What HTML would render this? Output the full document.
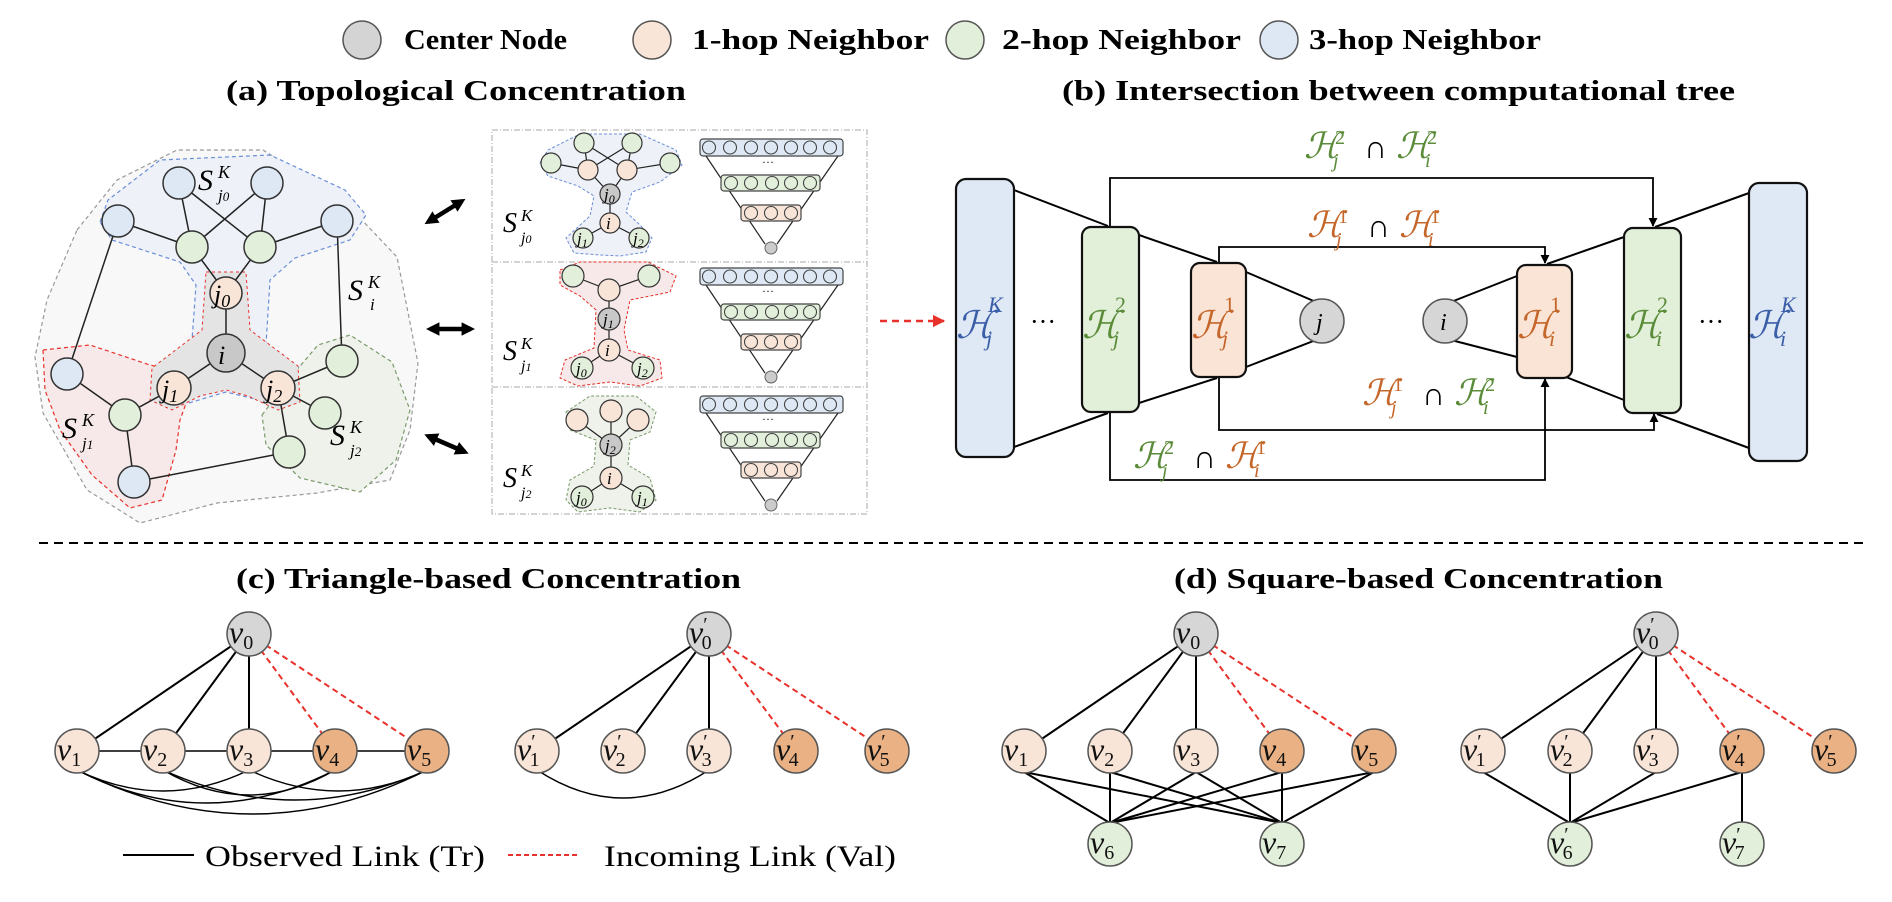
<!DOCTYPE html>
<html><head><meta charset="utf-8"><style>
html,body{margin:0;padding:0;background:#fff;}
svg{display:block;}
text{font-family:"Liberation Serif","DejaVu Serif",serif;}
.it{font-style:italic;}
</style></head><body>
<svg width="1892" height="902" viewBox="0 0 1892 902" xmlns="http://www.w3.org/2000/svg">
<defs>
<marker id="ah" viewBox="0 0 10 10" refX="9" refY="5" markerWidth="5" markerHeight="5" orient="auto"><path d="M0,0 L10,5 L0,10 z" fill="#000"/></marker>
<marker id="bh" viewBox="0 0 10 10" refX="7" refY="5" markerWidth="3" markerHeight="3" orient="auto-start-reverse"><path d="M0,0 L10,5 L0,10 z" fill="#000"/></marker>
<marker id="rh" viewBox="0 0 10 10" refX="9" refY="5" markerWidth="5" markerHeight="5" orient="auto"><path d="M0,0 L10,5 L0,10 z" fill="#e8312a"/></marker>
</defs>

<!-- Legend -->
<g font-weight="bold" font-size="28">
<circle cx="362" cy="40" r="19" fill="#d4d4d4" stroke="#555" stroke-width="1.5"/>
<text x="404" y="49" textLength="163" lengthAdjust="spacingAndGlyphs">Center Node</text>
<circle cx="652" cy="40" r="19" fill="#f8e5d8" stroke="#555" stroke-width="1.5"/>
<text x="692" y="49" textLength="237" lengthAdjust="spacingAndGlyphs">1-hop Neighbor</text>
<circle cx="965" cy="40" r="19" fill="#e2efda" stroke="#555" stroke-width="1.5"/>
<text x="1002" y="49" textLength="239" lengthAdjust="spacingAndGlyphs">2-hop Neighbor</text>
<circle cx="1279" cy="40" r="19" fill="#dde8f4" stroke="#555" stroke-width="1.5"/>
<text x="1309" y="49" textLength="232" lengthAdjust="spacingAndGlyphs">3-hop Neighbor</text>
</g>
<g font-weight="bold" font-size="29">
<text x="226" y="100" textLength="460" lengthAdjust="spacingAndGlyphs">(a) Topological Concentration</text>
<text x="1062" y="100" textLength="673" lengthAdjust="spacingAndGlyphs">(b) Intersection between computational tree</text>
<text x="236" y="588" textLength="505" lengthAdjust="spacingAndGlyphs">(c) Triangle-based Concentration</text>
<text x="1174" y="588" textLength="489" lengthAdjust="spacingAndGlyphs">(d) Square-based Concentration</text>
</g>

<line x1="39" y1="543" x2="1867" y2="543" stroke="#000" stroke-width="2" stroke-dasharray="9,6"/>

<!-- ============ Panel (a) left ============ -->
<path d="M77,230 L117,180 L177,150 L263,150 L343,200 L397,257 L418,363 L410,430 L390,480 L317,493 L217,503 L140,523 L87,490 L43,413 L35,357 L47,300 Z" fill="#f8f8f8" stroke="#999" stroke-width="1.2" stroke-dasharray="4,3"/>
<path d="M100,222 L108,200 L160,160 L270,155 L345,190 L366,215 L350,240 L295,258 L270,280 L266,345 L300,368 L305,395 L280,405 L226,392 L172,408 L150,395 L152,370 L192,340 L196,285 L180,262 L112,240 Z" fill="#eef1f8" stroke="#6b8fd6" stroke-width="1.2" stroke-dasharray="4,3"/>
<path d="M43,350 L90,345 L150,365 L178,372 L188,398 L180,420 L176,450 L162,500 L130,508 L92,475 L60,430 L45,390 Z" fill="#f7e9e9" stroke="#e8312a" stroke-width="1.2" stroke-dasharray="4,3"/>
<path d="M262,415 L295,372 L318,345 L350,335 L392,362 L410,410 L396,460 L360,492 L300,478 L266,445 Z" fill="#eef2ea" stroke="#7a9a6a" stroke-width="1.2" stroke-dasharray="4,3"/>
<path d="M206,272 L246,272 L250,330 L298,366 L300,402 L278,410 L248,396 L226,390 L200,396 L172,410 L150,400 L152,368 L202,330 Z" fill="#e4e4e4" stroke="#e8312a" stroke-width="1" stroke-dasharray="3,3"/>
<g stroke="#222" stroke-width="1.5">
<line x1="179" y1="183" x2="192" y2="247"/><line x1="179" y1="183" x2="260" y2="247"/>
<line x1="267" y1="183" x2="192" y2="247"/><line x1="267" y1="183" x2="260" y2="247"/>
<line x1="118" y1="221" x2="192" y2="247"/><line x1="337" y1="221" x2="260" y2="247"/>
<line x1="192" y1="247" x2="226" y2="293"/><line x1="260" y1="247" x2="226" y2="293"/>
<line x1="226" y1="293" x2="226" y2="353"/><line x1="226" y1="353" x2="174" y2="388"/><line x1="226" y1="353" x2="278" y2="388"/>
<line x1="118" y1="221" x2="67" y2="374"/><line x1="337" y1="221" x2="342" y2="361"/>
<line x1="278" y1="388" x2="342" y2="361"/><line x1="278" y1="388" x2="325" y2="413"/><line x1="278" y1="388" x2="289" y2="452"/>
<line x1="174" y1="388" x2="125" y2="415"/><line x1="67" y1="374" x2="125" y2="415"/><line x1="125" y1="415" x2="134" y2="482"/>
<line x1="134" y1="482" x2="289" y2="452"/>
</g>
<g stroke="#333" stroke-width="1.5">
<circle cx="179" cy="183" r="16" fill="#dde8f4"/><circle cx="267" cy="183" r="16" fill="#dde8f4"/>
<circle cx="118" cy="221" r="16" fill="#dde8f4"/><circle cx="337" cy="221" r="16" fill="#dde8f4"/>
<circle cx="192" cy="247" r="16" fill="#e2efda"/><circle cx="260" cy="247" r="16" fill="#e2efda"/>
<circle cx="226" cy="293" r="16" fill="#f8e5d8"/><circle cx="226" cy="353" r="19" fill="#c8c8c8"/>
<circle cx="174" cy="388" r="17" fill="#f8e5d8"/><circle cx="278" cy="388" r="17" fill="#f8e5d8"/>
<circle cx="342" cy="361" r="16" fill="#e2efda"/><circle cx="325" cy="413" r="16" fill="#e2efda"/>
<circle cx="289" cy="452" r="16" fill="#e2efda"/><circle cx="125" cy="415" r="16" fill="#e2efda"/>
<circle cx="67" cy="374" r="16" fill="#dde8f4"/><circle cx="134" cy="482" r="16" fill="#dde8f4"/>
</g>
<g class="it" font-size="26">
<text x="214" y="303">j<tspan font-size="18" dy="4">0</tspan></text>
<text x="218" y="364">i</text>
<text x="162" y="398">j<tspan font-size="18" dy="4">1</tspan></text>
<text x="266" y="398">j<tspan font-size="18" dy="4">2</tspan></text>
</g>
<g class="it" font-size="30">
<text x="198" y="190">S</text><text x="218" y="178" font-size="18">K</text><text x="218" y="201" font-size="17">j<tspan font-size="13">0</tspan></text>
<text x="348" y="300">S</text><text x="368" y="288" font-size="18">K</text><text x="370" y="310" font-size="17">i</text>
<text x="62" y="438">S</text><text x="82" y="426" font-size="18">K</text><text x="82" y="449" font-size="17">j<tspan font-size="13">1</tspan></text>
<text x="330" y="445">S</text><text x="350" y="433" font-size="18">K</text><text x="350" y="456" font-size="17">j<tspan font-size="13">2</tspan></text>
</g>

<g stroke="#000" stroke-width="4.5">
<line x1="428" y1="222" x2="462" y2="201" marker-start="url(#bh)" marker-end="url(#bh)"/>
<line x1="430" y1="329" x2="471" y2="329" marker-start="url(#bh)" marker-end="url(#bh)"/>
<line x1="428" y1="436" x2="465" y2="452" marker-start="url(#bh)" marker-end="url(#bh)"/>
</g>

<!-- ============ Panel (a) middle ============ -->
<rect x="492" y="130" width="375" height="384" fill="none" stroke="#aaa" stroke-width="1" stroke-dasharray="6,2,1,2"/>
<line x1="492" y1="262" x2="867" y2="262" stroke="#aaa" stroke-dasharray="6,2,1,2"/>
<line x1="492" y1="387" x2="867" y2="387" stroke="#aaa" stroke-dasharray="6,2,1,2"/>

<path d="M540,163 L548,150 L580,134 L640,134 L676,150 L682,165 L660,182 L632,192 L626,212 L640,225 L652,238 L646,252 L620,256 L600,255 L574,253 L566,238 L590,216 L594,196 L578,186 L548,176 Z" fill="#eef1f8" stroke="#6b8fd6" stroke-dasharray="3,2"/>
<g stroke="#222" stroke-width="1.2">
<line x1="584" y1="143" x2="588" y2="170"/><line x1="584" y1="143" x2="627" y2="170"/><line x1="632" y1="143" x2="588" y2="170"/><line x1="632" y1="143" x2="627" y2="170"/>
<line x1="551" y1="163" x2="588" y2="170"/><line x1="670" y1="163" x2="627" y2="170"/>
<line x1="588" y1="170" x2="610" y2="194"/><line x1="627" y1="170" x2="610" y2="194"/><line x1="610" y1="194" x2="610" y2="223"/>
<line x1="610" y1="223" x2="583" y2="238"/><line x1="610" y1="223" x2="639" y2="238"/>
</g>
<g stroke="#333" stroke-width="1.2">
<circle cx="584" cy="143" r="10" fill="#e2efda"/><circle cx="632" cy="143" r="10" fill="#e2efda"/>
<circle cx="551" cy="163" r="10" fill="#e2efda"/><circle cx="670" cy="163" r="10" fill="#e2efda"/>
<circle cx="588" cy="170" r="10" fill="#f8e5d8"/><circle cx="627" cy="170" r="10" fill="#f8e5d8"/>
<circle cx="610" cy="194" r="10" fill="#c8c8c8"/><circle cx="610" cy="223" r="10" fill="#f8e5d8"/>
<circle cx="583" cy="238" r="10" fill="#e2efda"/><circle cx="639" cy="238" r="10" fill="#e2efda"/>
</g>
<path d="M560,270 L580,262 L648,262 L676,276 L670,292 L630,300 L624,330 L628,350 L660,360 L662,378 L640,386 L610,382 L578,386 L560,378 L565,360 L594,348 L596,310 L580,296 L560,285 Z" fill="#f7e9e9" stroke="#e8312a" stroke-dasharray="3,2"/>
<g stroke="#222" stroke-width="1.2">
<line x1="573" y1="276" x2="609" y2="290"/><line x1="649" y1="276" x2="609" y2="290"/><line x1="609" y1="290" x2="609" y2="350"/>
<line x1="609" y1="350" x2="582" y2="368"/><line x1="609" y1="350" x2="643" y2="368"/>
</g>
<g stroke="#333" stroke-width="1.2">
<circle cx="573" cy="276" r="11" fill="#e2efda"/><circle cx="649" cy="276" r="11" fill="#e2efda"/>
<circle cx="609" cy="290" r="11" fill="#f8e5d8"/><circle cx="609" cy="319" r="11" fill="#c8c8c8"/>
<circle cx="609" cy="350" r="11" fill="#f8e5d8"/><circle cx="582" cy="368" r="11" fill="#e2efda"/><circle cx="643" cy="368" r="11" fill="#e2efda"/>
</g>
<path d="M566,412 L590,396 L636,396 L656,412 L650,432 L630,440 L628,465 L650,478 L656,500 L640,512 L610,508 L578,512 L566,500 L570,480 L594,466 L596,440 L570,430 Z" fill="#eef2ea" stroke="#7a9a6a" stroke-dasharray="3,2"/>
<g stroke="#222" stroke-width="1.2">
<line x1="577" y1="420" x2="611" y2="445"/><line x1="611" y1="411" x2="611" y2="478"/><line x1="638" y1="420" x2="611" y2="445"/>
<line x1="611" y1="478" x2="582" y2="497"/><line x1="611" y1="478" x2="643" y2="497"/>
</g>
<g stroke="#333" stroke-width="1.2">
<circle cx="577" cy="420" r="11" fill="#f8e5d8"/><circle cx="611" cy="411" r="11" fill="#f8e5d8"/><circle cx="638" cy="420" r="11" fill="#f8e5d8"/>
<circle cx="611" cy="445" r="11" fill="#c8c8c8"/><circle cx="611" cy="478" r="11" fill="#f8e5d8"/>
<circle cx="582" cy="497" r="11" fill="#e2efda"/><circle cx="643" cy="497" r="11" fill="#e2efda"/>
</g>
<g class="it" font-size="17">
<text x="604" y="200">j<tspan font-size="12" dy="3">0</tspan></text><text x="606" y="229">i</text><text x="577" y="244">j<tspan font-size="12" dy="3">1</tspan></text><text x="633" y="244">j<tspan font-size="12" dy="3">2</tspan></text>
<text x="603" y="325">j<tspan font-size="12" dy="3">1</tspan></text><text x="605" y="356">i</text><text x="576" y="374">j<tspan font-size="12" dy="3">0</tspan></text><text x="637" y="374">j<tspan font-size="12" dy="3">2</tspan></text>
<text x="605" y="451">j<tspan font-size="12" dy="3">2</tspan></text><text x="607" y="484">i</text><text x="576" y="503">j<tspan font-size="12" dy="3">0</tspan></text><text x="637" y="503">j<tspan font-size="12" dy="3">1</tspan></text>
</g>
<g class="it" font-size="28">
<text x="503" y="232">S</text><text x="521" y="221" font-size="17">K</text><text x="521" y="243" font-size="16">j<tspan font-size="12">0</tspan></text>
<text x="503" y="360">S</text><text x="521" y="349" font-size="17">K</text><text x="521" y="371" font-size="16">j<tspan font-size="12">1</tspan></text>
<text x="503" y="487">S</text><text x="521" y="476" font-size="17">K</text><text x="521" y="498" font-size="16">j<tspan font-size="12">2</tspan></text>
</g>

<g id="tree">
<line x1="706" y1="156" x2="765" y2="244" stroke="#222" stroke-width="1.2"/>
<line x1="838" y1="156" x2="777" y2="244" stroke="#222" stroke-width="1.2"/>
<rect x="700" y="139" width="143" height="17" rx="3" fill="#dde8f4" stroke="#444" stroke-width="1.2"/>
<g fill="#dde8f4" stroke="#444" stroke-width="1.1">
<circle cx="709" cy="147.5" r="6.5"/><circle cx="730" cy="147.5" r="6.5"/><circle cx="751" cy="147.5" r="6.5"/><circle cx="771" cy="147.5" r="6.5"/><circle cx="791" cy="147.5" r="6.5"/><circle cx="810" cy="147.5" r="6.5"/><circle cx="830" cy="147.5" r="6.5"/>
</g>
<text x="762" y="166" font-size="12">···</text>
<rect x="721" y="175" width="99" height="16" rx="3" fill="#e2efda" stroke="#444" stroke-width="1.2"/>
<g fill="#e2efda" stroke="#444" stroke-width="1.1">
<circle cx="731" cy="183" r="6.5"/><circle cx="751" cy="183" r="6.5"/><circle cx="772" cy="183" r="6.5"/><circle cx="791" cy="183" r="6.5"/><circle cx="810" cy="183" r="6.5"/>
</g>
<rect x="741" y="205" width="60" height="16" rx="3" fill="#f8e5d8" stroke="#444" stroke-width="1.2"/>
<g fill="#f8e5d8" stroke="#444" stroke-width="1.1">
<circle cx="751" cy="213" r="6.5"/><circle cx="771" cy="213" r="6.5"/><circle cx="791" cy="213" r="6.5"/>
</g>
<circle cx="771" cy="248" r="6" fill="#ccc" stroke="#666"/>
</g>
<use href="#tree" transform="translate(0,129)"/>
<use href="#tree" transform="translate(0,257)"/>

<line x1="880" y1="321" x2="944" y2="321" stroke="#e8312a" stroke-width="2.5" stroke-dasharray="7,5" marker-end="url(#rh)"/>

<!-- ============ Panel (b) ============ -->
<g stroke="#000" stroke-width="2" fill="none">
<line x1="1014" y1="190" x2="1108" y2="226"/><line x1="1014" y1="447" x2="1108" y2="413"/>
<line x1="1139" y1="235" x2="1217" y2="262"/><line x1="1139" y1="403" x2="1217" y2="378"/>
<line x1="1246" y1="272" x2="1316" y2="302"/><line x1="1246" y1="367" x2="1316" y2="340"/>
<line x1="1451" y1="302" x2="1517" y2="276"/><line x1="1451" y1="340" x2="1517" y2="357"/>
<line x1="1624" y1="237" x2="1547" y2="264"/><line x1="1624" y1="400" x2="1566" y2="377"/>
<line x1="1749" y1="193" x2="1655" y2="227"/><line x1="1749" y1="448" x2="1657" y2="414"/>
<path d="M1110,226 V178 H1653 V226" marker-start="url(#ah)" marker-end="url(#ah)" stroke-width="1.8"/>
<path d="M1219,262 V247 H1545 V263" marker-start="url(#ah)" marker-end="url(#ah)" stroke-width="1.8"/>
<path d="M1219,378 V430 H1654 V414" marker-start="url(#ah)" marker-end="url(#ah)" stroke-width="1.8"/>
<path d="M1110,413 V480 H1545 V379" marker-start="url(#ah)" marker-end="url(#ah)" stroke-width="1.8"/>
</g>
<g stroke="#111" stroke-width="2.2">
<rect x="956" y="179" width="58" height="278" rx="10" fill="#dfe9f5"/>
<rect x="1082" y="227" width="57" height="185" rx="9" fill="#e2efd9"/>
<rect x="1191" y="263" width="55" height="114" rx="9" fill="#f9e4d6"/>
<rect x="1517" y="265" width="55" height="113" rx="9" fill="#f9e4d6"/>
<rect x="1624" y="228" width="57" height="185" rx="9" fill="#e2efd9"/>
<rect x="1749" y="183" width="58" height="278" rx="10" fill="#dfe9f5"/>
</g>
<circle cx="1322" cy="321" r="22" fill="#d6d6d6" stroke="#555" stroke-width="1.5"/>
<circle cx="1445" cy="321" r="22" fill="#d6d6d6" stroke="#555" stroke-width="1.5"/>
<text x="1316" y="330" class="it" font-size="24">j</text>
<text x="1440" y="330" class="it" font-size="24">i</text>
<text x="1030" y="330" font-size="26">···</text>
<text x="1698" y="330" font-size="26">···</text>
<g class="it">
<g fill="#3a5ea8"><text x="956" y="338" font-size="38">ℋ</text><text x="988" y="312" font-size="22">K</text><text x="986" y="346" font-size="22">j</text></g>
<g fill="#5b8c3a"><text x="1082" y="338" font-size="38">ℋ</text><text x="1115" y="312" font-size="22" font-style="normal">2</text><text x="1113" y="346" font-size="22">j</text></g>
<g fill="#c5662a"><text x="1191" y="338" font-size="38">ℋ</text><text x="1224" y="312" font-size="22" font-style="normal">1</text><text x="1222" y="346" font-size="22">j</text></g>
<g fill="#c5662a"><text x="1517" y="338" font-size="38">ℋ</text><text x="1550" y="312" font-size="22" font-style="normal">1</text><text x="1549" y="346" font-size="22">i</text></g>
<g fill="#5b8c3a"><text x="1624" y="338" font-size="38">ℋ</text><text x="1657" y="312" font-size="22" font-style="normal">2</text><text x="1656" y="346" font-size="22">i</text></g>
<g fill="#3a5ea8"><text x="1748" y="338" font-size="38">ℋ</text><text x="1781" y="312" font-size="22">K</text><text x="1780" y="346" font-size="22">i</text></g>
</g>
<g class="it">
<g transform="translate(1304,158)">
<text x="0" y="0" font-size="36" fill="#5b8c3a">ℋ</text><text x="31" y="-14" font-size="20" fill="#5b8c3a" font-style="normal">2</text><text x="29" y="9" font-size="20" fill="#5b8c3a">j</text>
<text x="60" y="0" font-size="32" font-style="normal" fill="#000">∩</text>
<text x="92" y="0" font-size="36" fill="#5b8c3a">ℋ</text><text x="123" y="-14" font-size="20" fill="#5b8c3a" font-style="normal">2</text><text x="121" y="9" font-size="20" fill="#5b8c3a">i</text>
</g>
<g transform="translate(1307,237)">
<text x="0" y="0" font-size="36" fill="#c5662a">ℋ</text><text x="31" y="-14" font-size="20" fill="#c5662a" font-style="normal">1</text><text x="29" y="9" font-size="20" fill="#c5662a">j</text>
<text x="60" y="0" font-size="32" font-style="normal" fill="#000">∩</text>
<text x="92" y="0" font-size="36" fill="#c5662a">ℋ</text><text x="123" y="-14" font-size="20" fill="#c5662a" font-style="normal">1</text><text x="121" y="9" font-size="20" fill="#c5662a">i</text>
</g>
<g transform="translate(1362,405)">
<text x="0" y="0" font-size="36" fill="#c5662a">ℋ</text><text x="31" y="-14" font-size="20" fill="#c5662a" font-style="normal">1</text><text x="29" y="9" font-size="20" fill="#c5662a">j</text>
<text x="60" y="0" font-size="32" font-style="normal" fill="#000">∩</text>
<text x="92" y="0" font-size="36" fill="#5b8c3a">ℋ</text><text x="123" y="-14" font-size="20" fill="#5b8c3a" font-style="normal">2</text><text x="121" y="9" font-size="20" fill="#5b8c3a">i</text>
</g>
<g transform="translate(1133,468)">
<text x="0" y="0" font-size="36" fill="#5b8c3a">ℋ</text><text x="31" y="-14" font-size="20" fill="#5b8c3a" font-style="normal">2</text><text x="29" y="9" font-size="20" fill="#5b8c3a">j</text>
<text x="60" y="0" font-size="32" font-style="normal" fill="#000">∩</text>
<text x="92" y="0" font-size="36" fill="#c5662a">ℋ</text><text x="123" y="-14" font-size="20" fill="#c5662a" font-style="normal">1</text><text x="121" y="9" font-size="20" fill="#c5662a">i</text>
</g>
</g>

<!-- ============ Panel (c) ============ -->
<g stroke="#000" stroke-width="2" fill="none">
<line x1="249" y1="634" x2="77" y2="751"/><line x1="249" y1="634" x2="163" y2="751"/><line x1="249" y1="634" x2="249" y2="751"/>
<line x1="77" y1="751" x2="427" y2="751" stroke-width="1.5"/>
<g stroke-width="1.4">
<path d="M77,770 Q252,858 427,770"/>
<path d="M77,770 Q206,836 335,770"/>
<path d="M163,770 Q295,830 427,770"/>
<path d="M77,770 Q163,812 249,770"/>
<path d="M163,770 Q249,820 335,770"/>
<path d="M249,770 Q338,812 427,770"/>
</g>
<line x1="709" y1="634" x2="537" y2="751"/><line x1="709" y1="634" x2="623" y2="751"/><line x1="709" y1="634" x2="709" y2="751"/>
<path d="M537,770 Q623,826 709,770" stroke-width="1.4"/>
</g>
<g stroke="#e8312a" stroke-width="2" stroke-dasharray="6,4">
<line x1="249" y1="634" x2="335" y2="751"/><line x1="249" y1="634" x2="427" y2="751"/>
<line x1="709" y1="634" x2="796" y2="751"/><line x1="709" y1="634" x2="887" y2="751"/>
</g>

<!-- ============ Panel (d) ============ -->
<g stroke="#000" stroke-width="2">
<line x1="1196" y1="634" x2="1024" y2="751"/><line x1="1196" y1="634" x2="1110" y2="751"/><line x1="1196" y1="634" x2="1196" y2="751"/>
<line x1="1024" y1="772" x2="1110" y2="823"/><line x1="1024" y1="772" x2="1282" y2="823"/>
<line x1="1110" y1="772" x2="1110" y2="823"/><line x1="1110" y1="772" x2="1282" y2="823"/>
<line x1="1196" y1="772" x2="1110" y2="823"/><line x1="1196" y1="772" x2="1282" y2="823"/>
<line x1="1282" y1="772" x2="1110" y2="823"/><line x1="1282" y1="772" x2="1282" y2="823"/>
<line x1="1374" y1="772" x2="1110" y2="823"/><line x1="1374" y1="772" x2="1282" y2="823"/>
<line x1="1656" y1="634" x2="1483" y2="751"/><line x1="1656" y1="634" x2="1570" y2="751"/><line x1="1656" y1="634" x2="1656" y2="751"/>
<line x1="1483" y1="772" x2="1570" y2="823"/><line x1="1570" y1="772" x2="1570" y2="823"/>
<line x1="1656" y1="772" x2="1570" y2="823"/><line x1="1742" y1="772" x2="1570" y2="823"/>
<line x1="1742" y1="772" x2="1742" y2="823"/>
</g>
<g stroke="#e8312a" stroke-width="2" stroke-dasharray="6,4">
<line x1="1196" y1="634" x2="1282" y2="751"/><line x1="1196" y1="634" x2="1374" y2="751"/>
<line x1="1656" y1="634" x2="1742" y2="751"/><line x1="1656" y1="634" x2="1834" y2="751"/>
</g>

<g stroke="#555" stroke-width="1.5">
<circle cx="249" cy="634" r="22" fill="#d6d6d6"/>
<circle cx="77" cy="751" r="22" fill="#f8e5d8"/><circle cx="163" cy="751" r="22" fill="#f8e5d8"/><circle cx="249" cy="751" r="22" fill="#f8e5d8"/>
<circle cx="335" cy="751" r="22" fill="#e9b184"/><circle cx="427" cy="751" r="22" fill="#e9b184"/>
<circle cx="709" cy="634" r="22" fill="#d6d6d6"/>
<circle cx="537" cy="751" r="22" fill="#f8e5d8"/><circle cx="623" cy="751" r="22" fill="#f8e5d8"/><circle cx="709" cy="751" r="22" fill="#f8e5d8"/>
<circle cx="796" cy="751" r="22" fill="#e9b184"/><circle cx="887" cy="751" r="22" fill="#e9b184"/>
<circle cx="1196" cy="634" r="22" fill="#d6d6d6"/>
<circle cx="1024" cy="751" r="22" fill="#f8e5d8"/><circle cx="1110" cy="751" r="22" fill="#f8e5d8"/><circle cx="1196" cy="751" r="22" fill="#f8e5d8"/>
<circle cx="1282" cy="751" r="22" fill="#e9b184"/><circle cx="1374" cy="751" r="22" fill="#e9b184"/>
<circle cx="1110" cy="844" r="22" fill="#e2efda"/><circle cx="1282" cy="844" r="22" fill="#e2efda"/>
<circle cx="1656" cy="634" r="22" fill="#d6d6d6"/>
<circle cx="1483" cy="751" r="22" fill="#f8e5d8"/><circle cx="1570" cy="751" r="22" fill="#f8e5d8"/><circle cx="1656" cy="751" r="22" fill="#f8e5d8"/>
<circle cx="1742" cy="751" r="22" fill="#e9b184"/><circle cx="1834" cy="751" r="22" fill="#e9b184"/>
<circle cx="1570" cy="844" r="22" fill="#e2efda"/><circle cx="1742" cy="844" r="22" fill="#e2efda"/>
</g>
<g class="it" font-size="32" fill="#111">
<text x="229" y="643">v<tspan font-size="20" dy="6" font-style="normal">0</tspan></text>
<text x="57" y="760">v<tspan font-size="20" dy="6" font-style="normal">1</tspan></text>
<text x="143" y="760">v<tspan font-size="20" dy="6" font-style="normal">2</tspan></text>
<text x="229" y="760">v<tspan font-size="20" dy="6" font-style="normal">3</tspan></text>
<text x="315" y="760">v<tspan font-size="20" dy="6" font-style="normal">4</tspan></text>
<text x="407" y="760">v<tspan font-size="20" dy="6" font-style="normal">5</tspan></text>
<text x="689" y="643">v<tspan font-size="20" dy="-12" font-style="normal">′</tspan><tspan font-size="20" dx="-6" dy="18" font-style="normal">0</tspan></text>
<text x="517" y="760">v<tspan font-size="20" dy="-12" font-style="normal">′</tspan><tspan font-size="20" dx="-6" dy="18" font-style="normal">1</tspan></text>
<text x="603" y="760">v<tspan font-size="20" dy="-12" font-style="normal">′</tspan><tspan font-size="20" dx="-6" dy="18" font-style="normal">2</tspan></text>
<text x="689" y="760">v<tspan font-size="20" dy="-12" font-style="normal">′</tspan><tspan font-size="20" dx="-6" dy="18" font-style="normal">3</tspan></text>
<text x="776" y="760">v<tspan font-size="20" dy="-12" font-style="normal">′</tspan><tspan font-size="20" dx="-6" dy="18" font-style="normal">4</tspan></text>
<text x="867" y="760">v<tspan font-size="20" dy="-12" font-style="normal">′</tspan><tspan font-size="20" dx="-6" dy="18" font-style="normal">5</tspan></text>
<text x="1176" y="643">v<tspan font-size="20" dy="6" font-style="normal">0</tspan></text>
<text x="1004" y="760">v<tspan font-size="20" dy="6" font-style="normal">1</tspan></text>
<text x="1090" y="760">v<tspan font-size="20" dy="6" font-style="normal">2</tspan></text>
<text x="1176" y="760">v<tspan font-size="20" dy="6" font-style="normal">3</tspan></text>
<text x="1262" y="760">v<tspan font-size="20" dy="6" font-style="normal">4</tspan></text>
<text x="1354" y="760">v<tspan font-size="20" dy="6" font-style="normal">5</tspan></text>
<text x="1090" y="853">v<tspan font-size="20" dy="6" font-style="normal">6</tspan></text>
<text x="1262" y="853">v<tspan font-size="20" dy="6" font-style="normal">7</tspan></text>
<text x="1636" y="643">v<tspan font-size="20" dy="-12" font-style="normal">′</tspan><tspan font-size="20" dx="-6" dy="18" font-style="normal">0</tspan></text>
<text x="1463" y="760">v<tspan font-size="20" dy="-12" font-style="normal">′</tspan><tspan font-size="20" dx="-6" dy="18" font-style="normal">1</tspan></text>
<text x="1550" y="760">v<tspan font-size="20" dy="-12" font-style="normal">′</tspan><tspan font-size="20" dx="-6" dy="18" font-style="normal">2</tspan></text>
<text x="1636" y="760">v<tspan font-size="20" dy="-12" font-style="normal">′</tspan><tspan font-size="20" dx="-6" dy="18" font-style="normal">3</tspan></text>
<text x="1722" y="760">v<tspan font-size="20" dy="-12" font-style="normal">′</tspan><tspan font-size="20" dx="-6" dy="18" font-style="normal">4</tspan></text>
<text x="1814" y="760">v<tspan font-size="20" dy="-12" font-style="normal">′</tspan><tspan font-size="20" dx="-6" dy="18" font-style="normal">5</tspan></text>
<text x="1550" y="853">v<tspan font-size="20" dy="-12" font-style="normal">′</tspan><tspan font-size="20" dx="-6" dy="18" font-style="normal">6</tspan></text>
<text x="1722" y="853">v<tspan font-size="20" dy="-12" font-style="normal">′</tspan><tspan font-size="20" dx="-6" dy="18" font-style="normal">7</tspan></text>
</g>

<line x1="123" y1="855" x2="194" y2="855" stroke="#000" stroke-width="2"/>
<text x="205" y="866" font-size="30" textLength="280" lengthAdjust="spacingAndGlyphs">Observed Link (Tr)</text>
<line x1="508" y1="855" x2="578" y2="855" stroke="#e8312a" stroke-width="2" stroke-dasharray="5,3"/>
<text x="604" y="866" font-size="30" textLength="292" lengthAdjust="spacingAndGlyphs">Incoming Link (Val)</text>
</svg>
</body></html>
